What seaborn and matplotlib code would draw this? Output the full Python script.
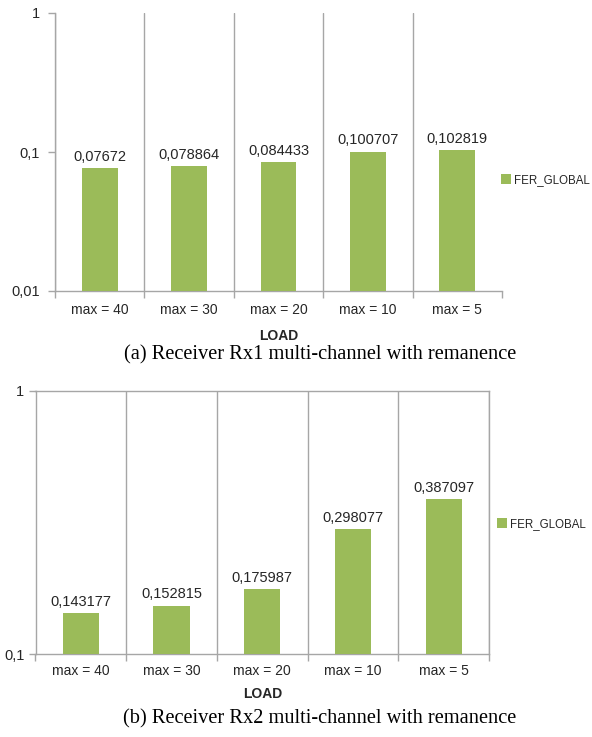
import numpy as np
import pandas as pd
import seaborn as sns
import matplotlib
matplotlib.use("Agg")
import matplotlib.pyplot as plt
from matplotlib.ticker import NullLocator, FixedLocator

# ---------------- data ----------------
categories = ["max = 40", "max = 30", "max = 20", "max = 10", "max = 5"]
fer_rx1 = [0.07672, 0.078864, 0.084433, 0.100707, 0.102819]
fer_rx2 = [0.143177, 0.152815, 0.175987, 0.298077, 0.387097]
labels_rx1 = ["0,07672", "0,078864", "0,084433", "0,100707", "0,102819"]
labels_rx2 = ["0,143177", "0,152815", "0,175987", "0,298077", "0,387097"]
yticks_rx1 = [0.01, 0.1, 1]
ytick_labels_rx1 = ["0,01", "0,1", "1"]
yticks_rx2 = [0.1, 1]
ytick_labels_rx2 = ["0,1", "1"]
series_name = "FER_GLOBAL"
x_title = "LOAD"
caption_a = "(a) Receiver Rx1 multi-channel with remanence"
caption_b = "(b) Receiver Rx2 multi-channel with remanence"

GREEN = "#9BBB59"
GRID = "#A6A6A6"
TEXT = "#262626"

sns.set_theme(style="white")
plt.rcParams["font.family"] = ["Liberation Sans Narrow", "Liberation Sans", "DejaVu Sans"]

W, H = 592, 737
fig = plt.figure(figsize=(W / 100, H / 100), dpi=100)


def px_axes(left, top, right, bottom):
    return fig.add_axes([left / W, 1 - bottom / H, (right - left) / W, (bottom - top) / H])


def draw_panel(ax, values, labels, yticks, yticklabels, ylim, full_box, xpad, xlabelpad,
               ypad, legend_xy):
    df = pd.DataFrame({"load": categories, "fer": values, "series": series_name})
    sns.barplot(data=df, x="load", y="fer", hue="series", palette=[GREEN],
                width=0.4, saturation=1, errorbar=None,
                linewidth=0, ax=ax, zorder=3)
    ax.set_yscale("log")
    n = len(categories)
    ax.set_xlim(-0.5, n - 0.5)
    ax.set_ylim(*ylim)
    ax.yaxis.set_major_locator(FixedLocator(yticks))
    ax.set_yticklabels(yticklabels)
    ax.yaxis.set_minor_locator(NullLocator())
    ax.tick_params(axis="y", which="major", length=5, width=1, color=GRID,
                   labelsize=10.5, labelcolor=TEXT, pad=ypad, left=True)
    # category boundaries as minor ticks / grid
    ax.xaxis.set_minor_locator(FixedLocator(np.arange(n + 1) - 0.5))
    ax.tick_params(axis="x", which="major", length=0, labelsize=10,
                   labelcolor=TEXT, pad=xpad)
    ax.tick_params(axis="x", which="minor", length=5, width=1, color=GRID,
                   bottom=True)
    ax.grid(False)
    ax.grid(True, which="minor", axis="x", color=GRID, linewidth=1)
    ax.set_axisbelow(True)
    if not full_box:
        ax.xaxis.get_minor_ticks()[-1].gridline.set_visible(False)
    for name, sp in ax.spines.items():
        sp.set_color(GRID)
        sp.set_linewidth(1)
        if not full_box and name in ("top", "right"):
            sp.set_visible(False)
    ax.set_xlabel(x_title, fontsize=10, fontweight="bold", color=TEXT,
                  labelpad=xlabelpad)
    ax.set_ylabel("")
    # data labels
    for cont in ax.containers:
        ax.bar_label(cont, labels=labels, padding=3, fontsize=10.5, color=TEXT)
    # legend
    leg = ax.get_legend()
    handles, lab = ax.get_legend_handles_labels()
    if leg is not None:
        leg.remove()
    ax.legend(handles, lab, loc="center left",
              bbox_to_anchor=(legend_xy[0] / W, 1 - legend_xy[1] / H),
              bbox_transform=fig.transFigure, frameon=False, fontsize=8.3,
              handlelength=0.85, handleheight=0.85, handletextpad=0.25,
              borderpad=0, borderaxespad=0, labelcolor=TEXT)


ax1 = px_axes(55, 13, 502, 291)
draw_panel(ax1, fer_rx1, labels_rx1, yticks_rx1, ytick_labels_rx1, (0.01, 1),
           full_box=False, xpad=9, xlabelpad=8, ypad=6, legend_xy=(501, 180))

ax2 = px_axes(35.5, 391, 489, 654)
draw_panel(ax2, fer_rx2, labels_rx2, yticks_rx2, ytick_labels_rx2, (0.1, 1),
           full_box=True, xpad=7, xlabelpad=7, ypad=3, legend_xy=(497, 524))

fig.text(320 / W, 1 - 355 / H, caption_a, ha="center", va="center",
         fontsize=14.7, family=["Liberation Serif", "DejaVu Serif"], color="black")
fig.text(320 / W, 1 - 719 / H, caption_b, ha="center", va="center",
         fontsize=14.7, family=["Liberation Serif", "DejaVu Serif"], color="black")

fig.savefig("out.png", dpi=100)
